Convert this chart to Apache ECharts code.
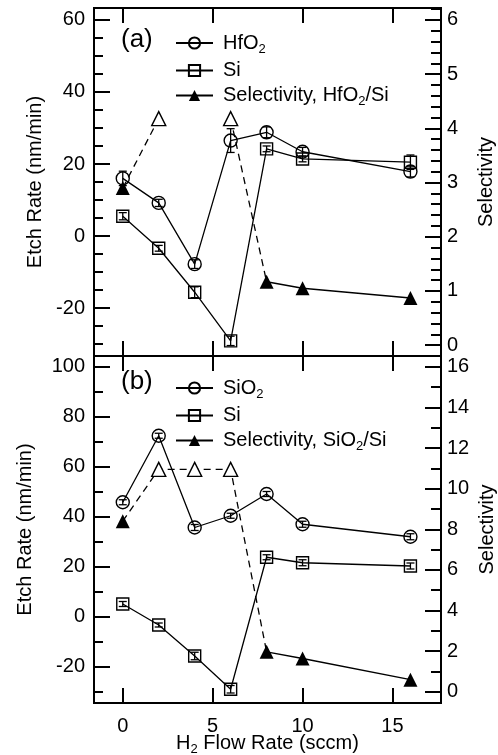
<!DOCTYPE html>
<html lang="en">
  <head>
    <meta charset="UTF-8" />
    <title>Etch rate vs H2 flow</title>
    <script src="https://cdn.jsdelivr.net/npm/echarts@6.0.0/dist/echarts.min.js"></script>
    <style>
      body { margin: 0; background: #fff; }
    </style>
  </head>
  <body>
    <div id="main" style="width: 498px; height: 755px"></div>
    <script type="text/javascript">
      // H2 flow rate (sccm)
      let flow = [0, 2, 4, 6, 8, 10, 16]

      // panel (a)
      let hfo2Rate = [16, 9.2, -7.8, 26.5, 28.8, 23.4, 17.9]
      let hfo2Err = [2, 1, 1.2, 3.3, 1.5, 1.2, 1.5]
      let siRateA = [5.5, -3.4, -15.6, -29.1, 24.2, 21.4, 20.5]
      let siErrA = [1, 0.8, 1.5, 1.3, 0.8, 0.8, 2]
      let selA = [2.9, null, null, null, 1.17, 1.05, 0.87]
      let selAOpen = [null, 4.18, null, 4.18, null, null, null]

      // panel (b)
      let sio2Rate = [45.8, 72.4, 35.7, 40.4, 49.1, 37, 32]
      let sio2Err = [1, 1, 1.2, 1, 1, 1.2, 1.2]
      let siRateB = [5.1, -3.3, -15.7, -29, 23.8, 21.6, 20.3]
      let siErrB = [1, 0.8, 1.5, 1.5, 1, 1.2, 1.2]
      let selB = [8.4, null, null, null, 1.97, 1.64, 0.6]
      let selBOpen = [null, 10.95, 10.95, 10.95, null, null, null]

      // ticks
      let xTicks = [0, 5, 10, 15]
      let leftTicksA = [-20, 0, 20, 40, 60]
      let rightTicksA = [0, 1, 2, 3, 4, 5, 6]
      let leftTicksB = [-20, 0, 20, 40, 60, 80, 100]
      let rightTicksB = [0, 2, 4, 6, 8, 10, 12, 14, 16]

      let leftMinorA = []
      for (let v = -30; v <= 60; v += 5) if (v % 20 !== 0) leftMinorA.push(v)
      let rightMinorA = []
      for (let i = 0; i <= 31; i++) if (i % 5 !== 0) rightMinorA.push(i / 5)
      let leftMinorB = []
      for (let v = -30; v <= 100; v += 20) leftMinorB.push(v)
      let rightMinorB = []
      for (let v = 1; v <= 15; v += 2) rightMinorB.push(v)

      const FONT = "Liberation Sans"
      const txt = { fontFamily: FONT, fontSize: 20, color: "#000" }
      const rich = {
        n: { fontFamily: FONT, fontSize: 20, color: "#000" },
        s: { fontFamily: FONT, fontSize: 13, color: "#000", padding: [12, 0, 0, 0] },
      }

      function pairs(vals) {
        return flow.map((x, i) => [x, vals[i]])
      }
      function errData(vals, errs) {
        return flow.map((x, i) => [x, vals[i] - errs[i], vals[i] + errs[i]])
      }
      function dashed(filled, open) {
        // dashed link from first filled point through open points to first filled point after the gap
        return flow.slice(0, 5).map((x, i) => [x, open[i] != null ? open[i] : filled[i]])
      }

      const tickLine = { color: "#000", width: 2 }

      function xAxisPair(grid, labels) {
        return [
          {
            type: "value", gridIndex: grid, position: "bottom", min: -1.6, max: 17.7,
            axisLine: { show: false, onZero: false }, splitLine: { show: false },
            axisTick: { inside: true, length: 15, customValues: xTicks, lineStyle: tickLine },
            axisLabel: { show: labels, customValues: xTicks, margin: 13, ...txt },
            name: labels ? "{n|H}{s|2}{n| Flow Rate (sccm)}" : "",
            nameLocation: "middle", nameGap: 28, nameMoveOverlap: false,
            nameTextStyle: { rich: rich },
          },
          {
            type: "value", gridIndex: grid, position: "top", min: -1.6, max: 17.7,
            axisLine: { show: false, onZero: false }, splitLine: { show: false },
            axisTick: { inside: true, length: 15, customValues: xTicks, lineStyle: tickLine },
            axisLabel: { show: false },
          },
        ]
      }

      function yAxis(grid, pos, min, max, ticks, len, labels, name, gap) {
        return {
          type: "value", gridIndex: grid, position: pos, min: min, max: max,
          axisLine: { show: false, onZero: false }, splitLine: { show: false },
          axisTick: { inside: true, length: len, customValues: ticks, lineStyle: tickLine },
          axisLabel: labels ? { customValues: ticks, margin: pos === "left" ? 9 : 6, ...txt } : { show: false },
          name: name || "", nameLocation: "middle", nameRotate: 90, nameGap: gap || 0,
          nameMoveOverlap: false,
          nameTextStyle: txt,
        }
      }

      let leftMinA = -33.3, leftMaxA = 63.3, rightMinA = -0.2, rightMaxA = 6.22
      let leftMinB = -34.5, leftMaxB = 104.3, rightMinB = -0.55, rightMaxB = 16.53

      function panelSeries(xi, yl, yr, rateName, rate, err, siRate, siErr, selName, sel, selOpen) {
        const errSeries = (vals, errs) => ({
          type: "custom", xAxisIndex: xi, yAxisIndex: yl, silent: true, z: 3,
          data: errData(vals, errs),
          renderItem: function (params, api) {
            const lo = api.coord([api.value(0), api.value(1)])
            const hi = api.coord([api.value(0), api.value(2)])
            const st = { stroke: "#000", lineWidth: 1.3 }
            return {
              type: "group",
              children: [
                { type: "line", shape: { x1: lo[0], y1: lo[1], x2: hi[0], y2: hi[1] }, style: st },
                { type: "line", shape: { x1: lo[0] - 4, y1: lo[1], x2: lo[0] + 4, y2: lo[1] }, style: st },
                { type: "line", shape: { x1: hi[0] - 4, y1: hi[1], x2: hi[0] + 4, y2: hi[1] }, style: st },
              ],
            }
          },
        })
        return [
          {
            name: rateName, type: "line", xAxisIndex: xi, yAxisIndex: yl, data: pairs(rate),
            symbol: "circle", symbolSize: 13,
            itemStyle: { color: "rgba(0,0,0,0)", borderColor: "#000", borderWidth: 1.4 },
            lineStyle: { color: "#000", width: 1.3 },
          },
          errSeries(rate, err),
          {
            name: "Si", type: "line", xAxisIndex: xi, yAxisIndex: yl, data: pairs(siRate),
            symbol: "rect", symbolSize: 12,
            itemStyle: { color: "rgba(0,0,0,0)", borderColor: "#000", borderWidth: 1.4 },
            lineStyle: { color: "#000", width: 1.3 },
          },
          errSeries(siRate, siErr),
          {
            name: selName, type: "line", xAxisIndex: xi, yAxisIndex: yr, data: pairs(sel),
            symbol: "triangle", symbolSize: 14, connectNulls: false,
            itemStyle: { color: "#000" }, lineStyle: { color: "#000", width: 1.3 },
          },
          {
            name: selName + " (dashed)", type: "line", xAxisIndex: xi, yAxisIndex: yr,
            data: dashed(sel, selOpen), showSymbol: false, connectNulls: false,
            lineStyle: { color: "#000", width: 1.3, type: [7, 5] },
          },
          {
            name: selName + " (open)", type: "scatter", xAxisIndex: xi, yAxisIndex: yr,
            data: pairs(selOpen), symbol: "triangle", symbolSize: 14, z: 4,
            itemStyle: { color: "#fff", borderColor: "#000", borderWidth: 1.4, opacity: 1 },
          },
        ]
      }

      let selAName = "{n|Selectivity, HfO}{s|2}{n|/Si}"
      let selBName = "{n|Selectivity, SiO}{s|2}{n|/Si}"

      let gridBase = { show: true, borderColor: "#000", borderWidth: 2, backgroundColor: "transparent", outerBoundsMode: "none", containLabel: false }

      let options = {
        animation: false,
        backgroundColor: "#fff",
        grid: [
          { left: 94, top: 8, width: 347, height: 348, ...gridBase },
          { left: 94, top: 356, width: 347, height: 347, ...gridBase },
        ],
        xAxis: [...xAxisPair(0, false), ...xAxisPair(1, true)],
        yAxis: [
          yAxis(0, "left", leftMinA, leftMaxA, leftTicksA, 16, true, "Etch Rate (nm/min)", 49),
          yAxis(0, "left", leftMinA, leftMaxA, leftMinorA, 9, false),
          yAxis(0, "right", rightMinA, rightMaxA, rightTicksA, 16, true, "Selectivity", 35),
          yAxis(0, "right", rightMinA, rightMaxA, rightMinorA, 10, false),
          yAxis(1, "left", leftMinB, leftMaxB, leftTicksB, 16, true, "Etch Rate (nm/min)", 59),
          yAxis(1, "left", leftMinB, leftMaxB, leftMinorB, 9, false),
          yAxis(1, "right", rightMinB, rightMaxB, rightTicksB, 16, true, "Selectivity", 36),
          yAxis(1, "right", rightMinB, rightMaxB, rightMinorB, 10, false),
        ],
        legend: [
          {
            data: ["HfO2", "Si", selAName], orient: "vertical", left: 170, top: 28,
            itemWidth: 37, itemHeight: 14, itemGap: 5, selectedMode: false,
            formatter: (n) => (n === "HfO2" ? "{n|HfO}{s|2}" : n.startsWith("{") ? n : "{n|" + n + "}"),
            textStyle: { rich: rich, padding: [0, 0, 0, 5] },
          },
          {
            data: ["SiO2", "Si", selBName], orient: "vertical", left: 170, top: 373,
            itemWidth: 37, itemHeight: 14, itemGap: 5, selectedMode: false,
            formatter: (n) => (n === "SiO2" ? "{n|SiO}{s|2}" : n.startsWith("{") ? n : "{n|" + n + "}"),
            textStyle: { rich: rich, padding: [0, 0, 0, 5] },
          },
        ],
        graphic: [
          { type: "text", left: 121, top: 27, style: { text: "(a)", font: "26px " + FONT, fill: "#000" } },
          { type: "text", left: 121, top: 369, style: { text: "(b)", font: "26px " + FONT, fill: "#000" } },
        ],
        series: [
          ...panelSeries(0, 0, 2, "HfO2", hfo2Rate, hfo2Err, siRateA, siErrA, selAName, selA, selAOpen),
          ...panelSeries(2, 4, 6, "SiO2", sio2Rate, sio2Err, siRateB, siErrB, selBName, selB, selBOpen),
        ],
      }

      let myChart = echarts.init(document.getElementById("main"))
      myChart.setOption(options)
    </script>
  </body>
</html>
